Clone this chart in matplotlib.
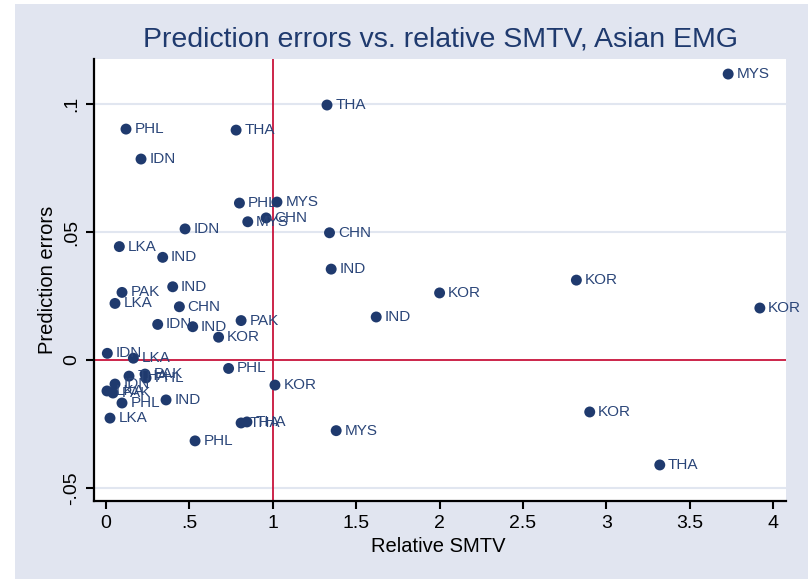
import matplotlib
matplotlib.use("Agg")
import matplotlib.pyplot as plt

plt.rcParams["font.family"] = ["Liberation Sans", "DejaVu Sans"]

# observations: country code, relative SMTV, prediction error
countries = [
    "MYS", "THA", "PHL", "THA", "IDN", "PHL", "MYS", "CHN", "MYS", "CHN",
    "IDN", "LKA", "IND", "IND", "PAK", "LKA", "CHN", "IDN", "IND", "PAK",
    "KOR", "IND", "KOR", "KOR", "IND", "KOR", "KOR", "KOR", "THA", "MYS",
    "IDN", "LKA", "PHL", "THA", "PAK", "PHL", "IDN", "LKA", "PAK", "PHL",
    "IND", "LKA", "THA", "THA", "PHL",
]
rel_smtv = [
    3.73, 1.325, 0.12, 0.78, 0.21, 0.80, 1.025, 0.96, 0.85, 1.34,
    0.474, 0.08, 0.34, 0.40, 0.096, 0.054, 0.44, 0.31, 0.52, 0.81,
    0.675, 1.35, 2.00, 2.82, 1.62, 3.92, 1.013, 2.90, 3.32, 1.38,
    0.008, 0.164, 0.735, 0.138, 0.234, 0.24, 0.054, 0.006, 0.042, 0.096,
    0.36, 0.024, 0.81, 0.845, 0.534,
]
pred_err = [
    0.1117, 0.0996, 0.0902, 0.0898, 0.0785, 0.0613, 0.0617, 0.0555, 0.0540, 0.0497,
    0.0512, 0.0443, 0.0401, 0.0286, 0.0264, 0.0221, 0.0208, 0.0139, 0.0130, 0.0154,
    0.0089, 0.0355, 0.0262, 0.0312, 0.0168, 0.0203, -0.0098, -0.0203, -0.0410, -0.0276,
    0.0026, 0.0007, -0.0033, -0.0063, -0.0055, -0.0070, -0.0094, -0.0121, -0.0129, -0.0168,
    -0.0156, -0.0227, -0.0246, -0.0242, -0.0316,
]

x_ticks = [0, 0.5, 1, 1.5, 2, 2.5, 3, 3.5, 4]
x_tick_labels = ["0", ".5", "1", "1.5", "2", "2.5", "3", "3.5", "4"]
y_ticks = [-0.05, 0, 0.05, 0.1]
y_tick_labels = ["-.05", "0", ".05", ".1"]

navy = "#1f3a6e"
red = "#c8143c"
bg = "#e1e5f0"
grid = "#e1e6f0"

W, H = 808, 579
fig = plt.figure(figsize=(W / 100, H / 100), dpi=100, facecolor="white")

# light graph region behind everything
bg_ax = fig.add_axes([15 / W, 0, 1 - 15 / W, 1 - 4 / H], zorder=0)
bg_ax.set_facecolor(bg)
bg_ax.set_xticks([])
bg_ax.set_yticks([])
for s in bg_ax.spines.values():
    s.set_visible(False)

ax = fig.add_axes([94 / W, 1 - 501 / H, (786 - 94) / W, (501 - 59) / H], zorder=1)
ax.set_facecolor("white")
ax.set_xlim(-0.0719, 4.0767)
ax.set_ylim(-0.05508, 0.11758)

for yv in y_ticks:
    if yv != 0:
        ax.axhline(yv, color=grid, lw=1.5, zorder=1)
ax.axhline(0, color=red, lw=1.3, zorder=2)
ax.axvline(1, color=red, lw=1.3, zorder=2)

ax.scatter(rel_smtv, pred_err, s=62, color=navy, edgecolors="none", zorder=3)
for c, xv, yv in zip(countries, rel_smtv, pred_err):
    ax.annotate(c, (xv, yv), xytext=(6, 0), textcoords="offset points",
                va="center", ha="left", fontsize=11, color="#2a4578", zorder=4)

ax.set_xticks(x_ticks, x_tick_labels, fontsize=14)
ax.set_yticks(y_ticks, y_tick_labels, fontsize=14, rotation=90, va="center")
ax.tick_params(direction="out", length=6, width=1.5, color="black", pad=4)
for side in ("top", "right"):
    ax.spines[side].set_visible(False)
for side in ("left", "bottom"):
    ax.spines[side].set_linewidth(1.6)
    ax.spines[side].set_color("black")

fig.text(440 / W, 1 - 40 / H, "Prediction errors vs. relative SMTV, Asian EMG",
         ha="center", va="center", fontsize=20.5, color=navy)
fig.text(438 / W, 1 - 547 / H, "Relative SMTV", ha="center", va="center", fontsize=14.5)
fig.text(48 / W, 1 - 280 / H, "Prediction errors", ha="center", va="center",
         rotation=90, fontsize=14.5)

fig.savefig("out.png", dpi=100, facecolor="white")
